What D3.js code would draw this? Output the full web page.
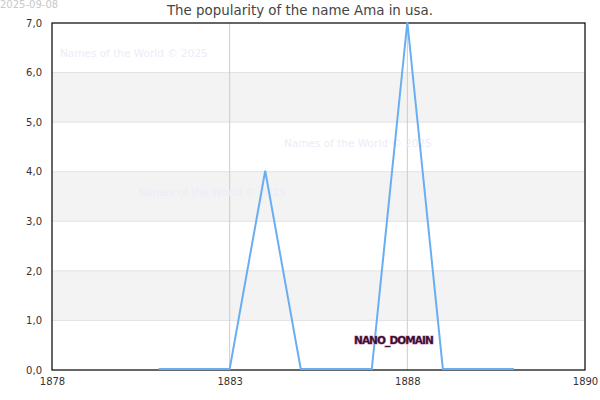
<!DOCTYPE html>
<html>
<head>
<meta charset="utf-8">
<script src="https://cdn.jsdelivr.net/npm/d3@7"></script>
<style>
  body { margin: 0; background: #fff; }
  text { font-family: "DejaVu Sans", sans-serif; }
</style>
</head>
<body>
<div id="cont"></div>
<script>
// data
var years  = [1881, 1882, 1883, 1884, 1885, 1886, 1887, 1888, 1889, 1890, 1891];
var counts = [0, 0, 0, 4, 0, 0, 0, 7, 0, 0, 0];
var xTicks = [1878, 1883, 1888, 1893];
var xTickLabels = ["1878", "1883", "1888", "1890"];
var yTicks = [0, 1, 2, 3, 4, 5, 6, 7];
var bands = [1, 3, 5];
var watermarks = [[60, 53], [284, 143], [138, 192]];

var margin = {top: 23, right: 15, bottom: 30, left: 52},
    width = 600 - margin.left - margin.right,
    height = 400 - margin.top - margin.bottom;

var x = d3.scaleLinear().domain([1878, 1893]).range([0, width]);
var y = d3.scaleLinear().domain([0, 7]).range([height, 0]);

var data = years.map(function(d, i) { return {year: d, value: counts[i]}; });

var svg = d3.select("#cont").append("svg")
    .attr("width", 600)
    .attr("height", 400);

// date stamp and title
svg.append("text")
    .attr("x", 0).attr("y", 8)
    .style("font-size", "10px")
    .style("fill", "#c8c8c8")
    .text("2025-09-08");

svg.append("text")
    .attr("x", 300).attr("y", 15)
    .attr("text-anchor", "middle")
    .style("font-size", "13.4px")
    .style("fill", "#444")
    .text("The popularity of the name Ama in usa.");

var g = svg.append("g")
    .attr("transform", "translate(" + margin.left + "," + margin.top + ")");

// alternating grey bands
g.selectAll("rect.band")
    .data(bands)
  .enter().append("rect")
    .attr("class", "band")
    .attr("x", 0)
    .attr("width", width)
    .attr("y", function(d) { return y(d + 1); })
    .attr("height", function(d) { return y(d) - y(d + 1); })
    .style("fill", "#f3f3f3");

// horizontal grid
g.selectAll("line.hgrid")
    .data(yTicks.slice(1, -1))
  .enter().append("line")
    .attr("class", "hgrid")
    .attr("x1", 0).attr("x2", width)
    .attr("y1", function(d) { return y(d); })
    .attr("y2", function(d) { return y(d); })
    .style("stroke", "#e2e2e2");

// vertical grid
g.selectAll("line.vgrid")
    .data(xTicks.slice(1, -1))
  .enter().append("line")
    .attr("class", "vgrid")
    .attr("y1", 0).attr("y2", height)
    .attr("x1", function(d) { return x(d); })
    .attr("x2", function(d) { return x(d); })
    .style("stroke", "#cccccc");

// watermarks
g.selectAll("text.wm")
    .data(watermarks)
  .enter().append("text")
    .attr("class", "wm")
    .attr("x", function(d) { return d[0] - margin.left; })
    .attr("y", function(d) { return d[1] - margin.top + 4; })
    .style("font-size", "10.5px")
    .style("fill", "#ececf8")
    .text("Names of the World © 2025");

// frame
g.append("rect")
    .attr("width", width).attr("height", height)
    .style("fill", "none")
    .style("stroke", "#000")
    .style("stroke-width", 1.2);

// the line
var valueline = d3.line()
    .x(function(d) { return x(d.year); })
    .y(function(d) { return y(d.value) - 1; });

g.append("path")
    .datum(data)
    .attr("d", valueline)
    .style("fill", "none")
    .style("stroke", "#6aaef2")
    .style("stroke-width", 2);

// NANO_DOMAIN label
g.append("text")
    .attr("x", 354 - margin.left)
    .attr("y", 344 - margin.top)
    .style("font-size", "10.5px")
    .style("font-weight", "bold")
    .style("fill", "#3a1030")
    .style("stroke", "#d9a0c8")
    .style("stroke-width", 1.2)
    .style("paint-order", "stroke")
    .style("letter-spacing", "-0.9px")
    .text("NANO_DOMAIN");

// axes
var xAxis = g.append("g")
    .attr("transform", "translate(0," + height + ")")
    .call(d3.axisBottom(x).tickValues(xTicks)
        .tickSize(0).tickPadding(8)
        .tickFormat(function(d, i) { return xTickLabels[i]; }));

var yAxis = g.append("g")
    .call(d3.axisLeft(y).tickValues(yTicks)
        .tickSize(0).tickPadding(10)
        .tickFormat(function(d) { return d3.format(".1f")(d).replace(".", ","); }));

[xAxis, yAxis].forEach(function(a) {
  a.select(".domain").remove();
  a.selectAll("text")
      .style("font-family", "DejaVu Sans, sans-serif")
      .style("font-size", "10px")
      .style("fill", "#333");
});
</script>
</body>
</html>
